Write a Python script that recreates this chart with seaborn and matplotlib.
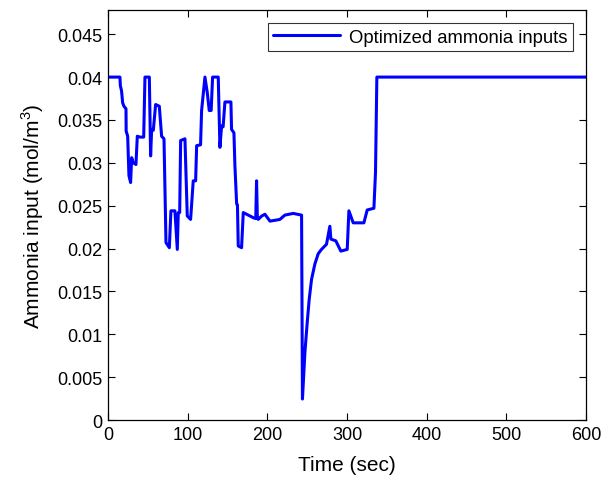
import numpy as np
import matplotlib
matplotlib.use("Agg")
import matplotlib.pyplot as plt
import seaborn as sns
from matplotlib.ticker import FuncFormatter

# Data
time_s = [0, 15, 15.5, 17, 18.4, 20, 22.6, 22.8, 24.7, 26.3, 28.4, 29.7, 31.8, 35.1,
          36.8, 40, 44.8, 46.4, 51.9, 53.5, 54.8, 56.9, 59.8, 64.4, 67.3, 70.3, 72.8,
          77, 79, 84, 87, 88.2, 90, 91.2, 96.6, 99.5, 103.7, 107, 110, 111.3, 116.2,
          117.5, 121.7, 124.6, 127.1, 129.5, 131.3, 138.4, 140.5, 142.6, 144.5, 146.8,
          154.3, 155.1, 158.1, 159.3, 161.5, 162.5, 163.5, 167.7, 169.8, 178.2, 182.3,
          185.5, 186.5, 187.5, 188.6, 193, 197, 203.3, 210, 215.8, 222, 232.5, 243,
          244.1, 247.2, 250.1, 252.6, 255.5, 259.7, 263.9, 268, 274.3, 278.5, 279.8,
          286, 292.3, 300.3, 302.4, 307.8, 321.2, 325.4, 333.8, 335.8, 337.5, 600]
ammonia = [0.040, 0.040, 0.039, 0.0384, 0.0370, 0.0366, 0.0363, 0.0337, 0.0331, 0.0285,
           0.0277, 0.0306, 0.0300, 0.0298, 0.0331, 0.0330, 0.0330, 0.040, 0.040, 0.0308,
           0.0339, 0.0338, 0.0368, 0.0366, 0.0331, 0.0328, 0.0207, 0.0201, 0.0244, 0.0244,
           0.0199, 0.0242, 0.0242, 0.0326, 0.0328, 0.0238, 0.0234, 0.0279, 0.0279, 0.0320,
           0.0321, 0.0361, 0.040, 0.0382, 0.0361, 0.0361, 0.040, 0.040, 0.0318, 0.0343,
           0.0342, 0.0371, 0.0371, 0.0339, 0.0335, 0.0297, 0.0252, 0.0251, 0.0203, 0.0201,
           0.0242, 0.0238, 0.0236, 0.0235, 0.0279, 0.0235, 0.0234, 0.0238, 0.0240, 0.0232,
           0.0233, 0.0234, 0.0239, 0.0241, 0.0239, 0.00245, 0.0079, 0.0114, 0.0141, 0.0164,
           0.0182, 0.0194, 0.0199, 0.0205, 0.0226, 0.0211, 0.0209, 0.0197, 0.0199, 0.0244,
           0.0230, 0.0230, 0.0245, 0.0247, 0.0289, 0.040, 0.040]
x_ticks = [0, 100, 200, 300, 400, 500, 600]
y_ticks = [0, 0.005, 0.01, 0.015, 0.02, 0.025, 0.03, 0.035, 0.04, 0.045]

sns.set_style("ticks")
plt.rcParams['font.family'] = ['Liberation Sans', 'DejaVu Sans']
plt.rcParams['mathtext.fontset'] = 'custom'
plt.rcParams['mathtext.rm'] = 'Liberation Sans'
plt.rcParams['text.color'] = 'black'
plt.rcParams['axes.labelcolor'] = 'black'

fig = plt.figure(figsize=(6.15, 4.81), dpi=100)
ax = fig.add_axes([0.1756, 0.1247, 0.7772, 0.852])

sns.lineplot(x=time_s, y=ammonia, ax=ax, sort=False, estimator=None,
             color=(0, 0, 1), linewidth=2.2, label="Optimized ammonia inputs")

ax.set_xlim(0, 600)
ax.set_ylim(0, 0.0478)
ax.set_xticks(x_ticks)
ax.set_yticks(y_ticks)
ax.yaxis.set_major_formatter(FuncFormatter(lambda v, p: "%g" % round(v, 4)))
ax.tick_params(direction="in", length=5, width=0.8, top=True, right=True,
               labelsize=13, colors="black", pad=4)
for s in ax.spines.values():
    s.set_visible(True)
    s.set_linewidth(0.9)
    s.set_color("black")

ax.set_xlabel("Time (sec)", fontsize=15, labelpad=9)
ax.set_ylabel("Ammonia input (mol/m$^3$)", fontsize=15, labelpad=8)

leg = ax.legend(loc="upper right", fontsize=13.3, frameon=True, fancybox=False,
                borderaxespad=0.7, handlelength=3.6, handletextpad=0.5,
                borderpad=0.3)
leg.get_frame().set_edgecolor("black")
leg.get_frame().set_linewidth(0.8)

fig.savefig("out.png", dpi=100)
